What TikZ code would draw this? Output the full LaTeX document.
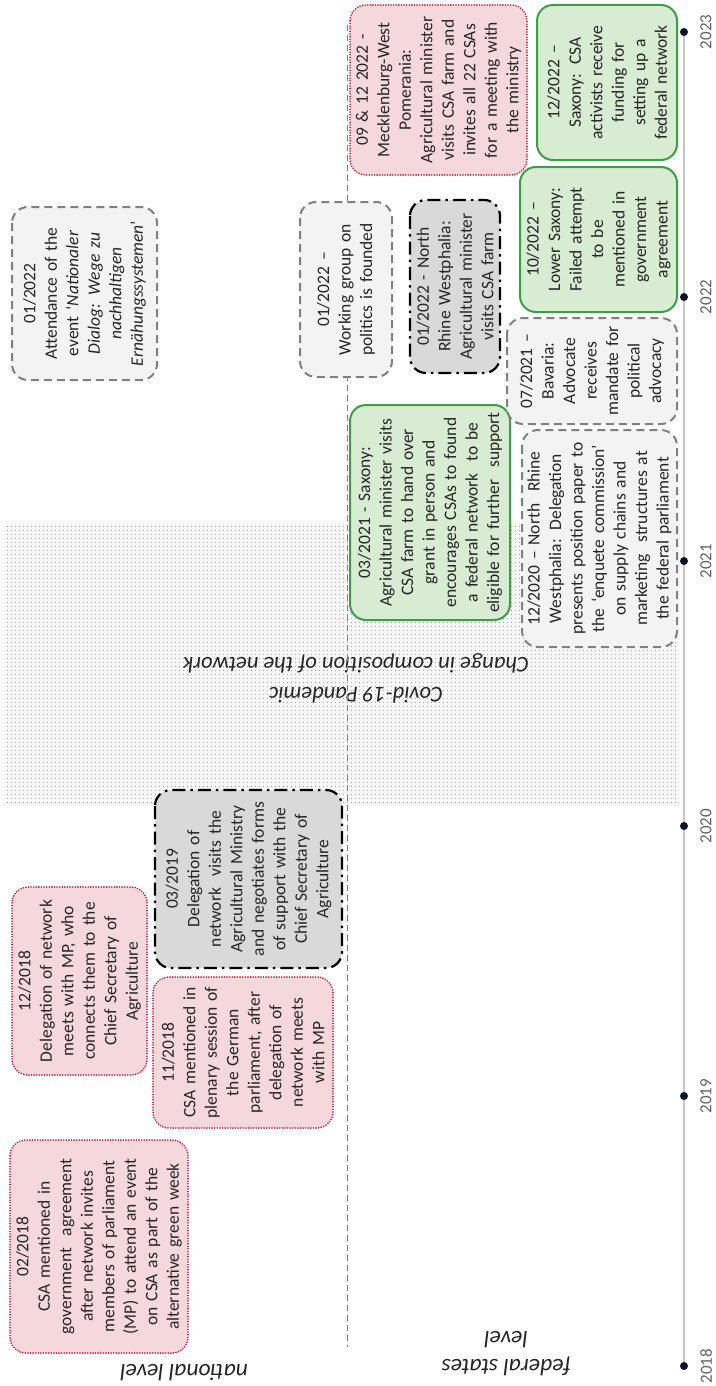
\documentclass[tikz,border=0pt]{standalone}
\usepackage{fontspec}
\setmainfont{Carlito}
\usetikzlibrary{patterns.meta}

\definecolor{txt}{RGB}{38,38,38}
\definecolor{pinkfill}{RGB}{245,216,219}
\definecolor{pinkline}{RGB}{196,24,60}
\definecolor{greenfill}{RGB}{216,235,211}
\definecolor{greenline}{RGB}{62,158,72}
\definecolor{dashfill}{RGB}{243,243,243}
\definecolor{dashline}{RGB}{128,128,128}
\definecolor{ddfill}{RGB}{217,217,217}
\definecolor{tlgrey}{RGB}{200,200,200}
\definecolor{yeargrey}{RGB}{100,100,100}
\definecolor{dotnavy}{RGB}{12,22,40}

\tikzset{
  evt/.style={rounded corners=16pt, align=center, inner sep=0pt, text=txt,
    font=\fontsize{17.5}{21.5}\selectfont},
  pinkbox/.style={evt, fill=pinkfill, draw=pinkline, line width=1.8pt,
    dash pattern=on 0pt off 2.6pt, line cap=round},
  greenbox/.style={evt, fill=greenfill, draw=greenline, line width=2pt},
  dashbox/.style={evt, fill=dashfill, draw=dashline, line width=2pt,
    dash pattern=on 8pt off 5pt},
  ddbox/.style={evt, fill=ddfill, draw=black, line width=2.2pt,
    dash pattern=on 13pt off 5pt on 2.5pt off 5pt},
  tl/.style={draw=tlgrey, line width=1.6pt},
  yeardot/.style={circle, fill=dotnavy, inner sep=0pt, minimum size=8pt},
  yearlabel/.style={text=yeargrey, font=\fontsize{17}{20}\selectfont, rotate=90},
  divider/.style={draw=gray, line width=0.9pt, dash pattern=on 6pt off 4pt},
  levellabel/.style={font=\fontsize{23.5}{28}\selectfont\itshape, text=txt,
    rotate=180, align=center},
  covidlabel/.style={font=\fontsize{22.5}{30}\selectfont\itshape, text=txt,
    rotate=180, align=center}
}

% event box given by its outer rectangle x1,y1,x2,y2 (text runs upwards)
\newcommand\evbox[7]{%
  \pgfmathsetmacro\evW{#6-#4}%
  \pgfmathsetmacro\evH{#5-#3}%
  \pgfmathsetmacro\evX{(#3+#5)/2}%
  \pgfmathsetmacro\evY{(#4+#6)/2}%
  \pgfmathsetmacro\evT{#6-#4-12}%
  \node[#2, rotate=90, minimum width=\evW pt, minimum height=\evH pt,
    text width=\evT pt] (#1) at (\evX,\evY) {#7};%
}

\begin{document}
\begin{tikzpicture}[x=1pt, y=-1pt]
\useasboundingbox[fill=white] (0,0) rectangle (715,1386);

% Covid-19 period band
\fill[fill=white!97!black] (7,523) rectangle (679,805);
\fill[pattern={Dots[distance=4pt, radius=0.55pt]}, pattern color=black!60]
  (7,523) rectangle (679,805);
\node[covidlabel] (covid) at (356,678)
  {Covid-19 Pandemic\\Change in composition of the network};

% divider between national and federal states level
\coordinate (divtop) at (347,25);
\coordinate (divbot) at (347,1347);
\draw[divider] (divtop) -- (divbot);

% time axis
\coordinate (t2018) at (684,1366);
\coordinate (t2019) at (684,1096);
\coordinate (t2020) at (684,826);
\coordinate (t2021) at (684,561);
\coordinate (t2022) at (684,297);
\coordinate (t2023) at (684,32);
\draw[tl] (t2018) -- (t2023);
\foreach \yr in {2018,2019,2020,2021,2022,2023}{
  \node[yeardot] (d\yr) at (t\yr) {};
  \node[yearlabel] (l\yr) at ([xshift=22pt]t\yr) {\yr};
}

% level labels
\node[levellabel] (natlevel) at (184,1373) {national level};
\node[levellabel] (fedlevel) at (506,1354) {federal states\\level};

% national level events
\evbox{e1802}{pinkbox}{10}{1140}{188}{1353}{02/2018\\CSA mentioned in\\government\ \ agreement\\after network invites\\members of parliament\\(MP) to attend an event\\on CSA as part of the\\alternative green week}
\evbox{e1811}{pinkbox}{153}{977}{333}{1128}{11/2018\\CSA mentioned in\\plenary session of\\the German\\parliament, after\\delegation of\\network meets\\with MP}
\evbox{e1812}{pinkbox}{12}{887}{147}{1075}{12/2018\\Delegation of network\\meets with MP, who\\connects them to the\\Chief Secretary of\\Agriculture}
\evbox{e1903}{ddbox}{155}{790}{342}{968}{03/2019\\Delegation of\\network\ \ visits the\\Agricultural Ministry\\and negotiates forms\\of support with the\\Chief Secretary of\\Agriculture}
\evbox{e2201a}{dashbox}{12}{207}{157}{380}{01/2022\\Attendance of the\\event ‘\textit{Nationaler}\\\textit{Dialog: Wege zu}\\\textit{nachhaltigen}\\\textit{Ernähungssystemen}’}
\evbox{e2201w}{dashbox}{300}{202}{392}{377}{01/2022 –\\Working group on\\politics is founded}

% federal states level events
\evbox{e2201n}{ddbox}{410}{200}{500}{373}{01/2022 - North\\Rhine Westphalia:\\Agricultural minister\\visits CSA farm}
\evbox{e2103}{greenbox}{350}{405}{510}{620}{03/2021 - Saxony:\\Agricultural minister visits\\CSA farm to hand over\\grant in person and\\encourages CSAs to found\\a federal network\ \ to be\\eligible for further\ \ support}
\evbox{e2012}{dashbox}{522}{430}{677}{647}{12/2020 – North\ \ Rhine\\Westphalia: Delegation\\presents position paper to\\the ‘enquete commission’\\on supply chains and\\marketing\ \ structures at\\the federal parliament}
\evbox{e2107}{dashbox}{507}{318}{677}{424}{07/2021 –\\Bavaria:\\Advocate\\receives\\mandate for\\political\\advocacy}
\evbox{e2210}{greenbox}{520}{167}{677}{312}{10/2022 –\\Lower Saxony:\\Failed attempt\\to be\\mentioned in\\government\\agreement}
\evbox{e2212}{greenbox}{537}{5}{677}{160}{12/2022 –\\Saxony: CSA\\activists receive\\funding for\\setting up a\\federal network}
\evbox{e2209}{pinkbox}{350}{5}{527}{175}{09 \& 12 2022 -\\Mecklenburg-West\\Pomerania:\\Agricultural minister\\visits CSA farm and\\invites all 22 CSAs\\for a meeting with\\the ministry}
\end{tikzpicture}
\end{document}
